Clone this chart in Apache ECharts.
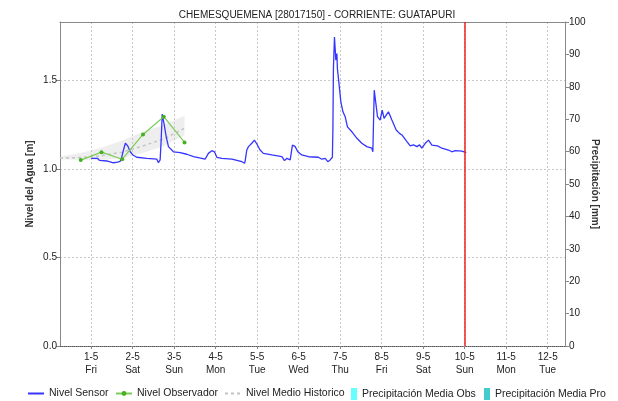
<!DOCTYPE html>
<html>
<head>
<meta charset="utf-8">
<script src="https://cdn.jsdelivr.net/npm/echarts@6/dist/echarts.min.js"></script>
<style>html,body{margin:0;padding:0;background:#fff}#c{width:618px;height:401px}</style>
</head>
<body>
<div id="c"></div>
<script>
// ---- data (hours counted from 2020-05-01 00:00) ----
const sensorHours = [0,3.6,4.8,9.1,12.9,13.9,15.2,16.8,17.5,18.7,19.8,21.2,22.6,24.1,26.4,32.2,38,38.9,39.9,40.5,41.1,42.2,43.4,44.7,47.6,51.5,55.3,59.2,64,65.9,67.8,69.8,71.3,72.7,75.6,81.4,87.2,88.7,89.1,90,91,92,92.9,94.4,95.8,97.7,99.6,104.5,110.3,111.8,113.2,115.1,116.4,118,119.5,121.8,125.7,131.4,133.4,135.3,136.9,138.2,139.5,139.8,140.1,140.7,141.5,142.1,142.4,143.6,144.4,145.6,146.9,148.2,150.8,153.7,156.5,159.4,162.3,162.9,163.7,164.4,165.6,167.1,168.3,169.4,170.6,171.9,173.9,176.4,178.3,179.7,182.6,184.5,186.4,188.4,189.9,191.2,193.2,195.1,197,200.3,202.8,206.6,208.6,210.5,214.4,216.9];
const sensorLevel = [1.060,1.060,1.049,1.045,1.035,1.028,1.039,1.043,1.060,1.107,1.145,1.130,1.097,1.079,1.066,1.060,1.055,1.035,1.051,1.163,1.310,1.253,1.182,1.126,1.097,1.092,1.083,1.069,1.060,1.055,1.088,1.103,1.097,1.066,1.060,1.055,1.041,1.032,1.047,1.107,1.126,1.117,1.145,1.163,1.141,1.107,1.088,1.079,1.069,1.047,1.060,1.051,1.135,1.126,1.097,1.079,1.069,1.066,1.055,1.060,1.041,1.051,1.066,1.229,1.567,1.745,1.614,1.652,1.567,1.455,1.379,1.323,1.295,1.238,1.210,1.173,1.145,1.126,1.117,1.097,1.445,1.389,1.295,1.276,1.332,1.286,1.304,1.323,1.276,1.220,1.201,1.192,1.154,1.130,1.136,1.126,1.136,1.117,1.145,1.163,1.135,1.130,1.117,1.107,1.097,1.103,1.101,1.092];

const obsTimes = ['2020-04-30T18:00','2020-05-01T06:00','2020-05-01T18:00','2020-05-02T06:00','2020-05-02T18:00','2020-05-03T06:00'];
const obsLevel = [1.050,1.095,1.055,1.195,1.295,1.150];

const histTimes = ['2020-04-30T06:00','2020-04-30T18:00','2020-05-01T06:00','2020-05-01T18:00','2020-05-02T06:00','2020-05-02T18:00','2020-05-03T06:00'];
const histMean  = [1.060,1.065,1.075,1.095,1.130,1.170,1.230];
const histUpper = [1.070,1.090,1.120,1.160,1.210,1.250,1.300];
const histLower = [1.055,1.050,1.050,1.060,1.090,1.130,1.190];

const precipObs = [];
const precipPro = [];

const currentTime = '2020-05-10T00:00';
const axisStart = '2020-04-30T06:00';
const axisEnd = '2020-05-12T10:00';
const dayNames = ['Sun','Mon','Tue','Wed','Thu','Fri','Sat'];

// ---- build ----
const T = s => Date.parse(s + ':00Z');
const H = 3600000, DAY = 86400000;
const base = T('2020-05-01T00:00');
const sensorData = sensorHours.map((h,i)=>[base + h*H, sensorLevel[i]]);
const obsData = obsTimes.map((t,i)=>[T(t), obsLevel[i]]);
const histData = histTimes.map((t,i)=>[T(t), histMean[i]]);
const lowData = histTimes.map((t,i)=>[T(t), histLower[i]]);
const bandData = histTimes.map((t,i)=>[T(t), +(histUpper[i]-histLower[i]).toFixed(3)]);

const FONT = "'Liberation Sans', Arial, sans-serif";
const legendText = {fontSize: 10.5, color: '#222', fontFamily: FONT};
function lineLegend(name, left, hideSymbol) {
  const item = {name: name};
  if (hideSymbol) item.itemStyle = {opacity: 0};
  return {data: [item], left: left, top: 388, itemWidth: 16, itemHeight: 6, padding: 0, textStyle: legendText};
}
function boxLegend(name, left) {
  return {data: [{name: name, icon: 'rect'}], left: left, top: 388, itemWidth: 6, itemHeight: 12, padding: 0, textStyle: legendText};
}

const chart = echarts.init(document.getElementById('c'));
chart.setOption({
  useUTC: true,
  animation: false,
  textStyle: {fontFamily: FONT},
  title: {
    text: 'CHEMESQUEMENA [28017150] - CORRIENTE: GUATAPURI',
    left: 312, textAlign: 'center', top: 5,
    textStyle: {fontSize: 10, fontWeight: 'normal', color: '#222', fontFamily: FONT}
  },
  grid: {left: 60, right: 53, top: 22, bottom: 55},
  legend: [
    lineLegend('Nivel Sensor', 27, true),
    lineLegend('Nivel Observador', 115, false),
    lineLegend('Nivel Medio Historico', 224, true),
    boxLegend('Precipitación Media Obs', 351),
    boxLegend('Precipitación Media Pro', 484)
  ],
  xAxis: [{
    type: 'time', min: T(axisStart), max: T(axisEnd),
    minInterval: DAY, maxInterval: DAY,
    axisLine: {onZero: false, lineStyle: {color: '#555', type: [1,1]}},
    axisTick: {show: true, length: 3, lineStyle: {color: '#888'}},
    axisLabel: {
      showMinLabel: false, showMaxLabel: false,
      fontSize: 10, color: '#222', lineHeight: 13, margin: 5, fontFamily: FONT,
      formatter: function (v) {
        const d = new Date(v);
        if (d.getUTCHours() !== 0 || d.getUTCMinutes() !== 0) return '';
        return d.getUTCDate() + '-' + (d.getUTCMonth()+1) + '\n' + dayNames[d.getUTCDay()];
      }
    },
    splitLine: {show: true, lineStyle: {color: '#c8c8c8', type: [2,2]}}
  },{
    type: 'time', position: 'top', min: T(axisStart), max: T(axisEnd),
    axisLine: {onZero: false, lineStyle: {color: '#888'}},
    axisTick: {show: false}, axisLabel: {show: false}, splitLine: {show: false}
  }],
  yAxis: [{
    type: 'value', min: 0, max: 1.83, interval: 0.5,
    name: 'Nivel del Agua [m]', nameLocation: 'middle', nameGap: 25, nameMoveOverlap: false,
    nameTextStyle: {fontSize: 10, fontWeight: 'bold', color: '#333', fontFamily: FONT},
    axisLine: {show: true, lineStyle: {color: '#888'}},
    axisTick: {show: true, length: 4, lineStyle: {color: '#888'}},
    axisLabel: {showMaxLabel: false, fontSize: 10, color: '#222', margin: 3, formatter: v => v.toFixed(1)},
    splitLine: {show: true, lineStyle: {color: '#c8c8c8', type: [2,2]}}
  },{
    type: 'value', min: 0, max: 100, interval: 10, position: 'right',
    name: 'Precipitación [mm]', nameLocation: 'middle', nameGap: 25, nameRotate: -90, nameMoveOverlap: false,
    nameTextStyle: {fontSize: 10, fontWeight: 'bold', color: '#333', fontFamily: FONT},
    axisLine: {show: true, lineStyle: {color: '#888'}},
    axisTick: {show: true, length: 4, lineStyle: {color: '#888'}},
    axisLabel: {fontSize: 10, color: '#222', margin: 4},
    splitLine: {show: false}
  }],
  series: [
    {name: 'bandLow', type: 'line', stack: 'band', data: lowData, symbol: 'none',
     lineStyle: {opacity: 0}, silent: true, z: 1},
    {name: 'bandRange', type: 'line', stack: 'band', data: bandData, symbol: 'none',
     lineStyle: {opacity: 0}, areaStyle: {color: 'rgba(200,200,200,0.45)', origin: 'auto'}, silent: true, z: 1},
    {name: 'Nivel Medio Historico', type: 'line', data: histData, symbol: 'none',
     lineStyle: {color: '#c4c4c4', width: 1.5, type: [3,3]}, itemStyle: {color: '#c4c4c4'}, z: 2},
    {name: 'Nivel Sensor', type: 'line', data: sensorData, symbol: 'none',
     lineStyle: {color: '#3535ff', width: 1.3}, itemStyle: {color: '#3535ff'}, z: 3,
     markLine: {symbol: 'none', silent: true, label: {show: false},
       lineStyle: {color: '#ee2222', width: 1.5, type: 'solid'},
       data: [{xAxis: T(currentTime)}]}},
    {name: 'Nivel Observador', type: 'line', data: obsData, symbol: 'circle', symbolSize: 4,
     lineStyle: {color: '#7dcc55', width: 1.2}, itemStyle: {color: '#44b022'}, z: 4},
    {name: 'Precipitación Media Obs', type: 'line', yAxisIndex: 1, data: precipObs,
     lineStyle: {color: '#66ffff'}, itemStyle: {color: '#66ffff'}},
    {name: 'Precipitación Media Pro', type: 'line', yAxisIndex: 1, data: precipPro,
     lineStyle: {color: '#44cccc'}, itemStyle: {color: '#44cccc'}}
  ]
});
</script>
</body>
</html>
